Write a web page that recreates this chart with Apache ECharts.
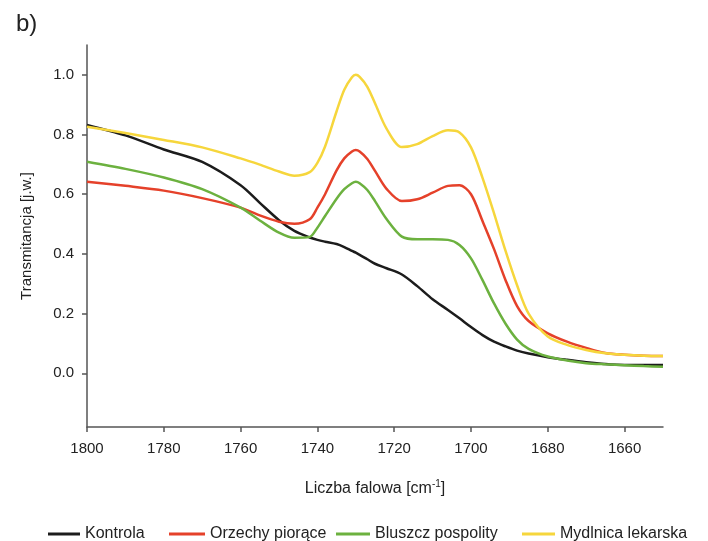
<!DOCTYPE html>
<html>
<head>
<meta charset="utf-8">
<script src="https://cdn.jsdelivr.net/npm/echarts@6/dist/echarts.min.js"></script>
<style>
html, body { margin: 0; padding: 0; background: #fff; }
#chart { width: 708px; height: 541px; }
</style>
</head>
<body>
<div id="chart"></div>
<script>
// wavenumber grid [cm-1]
var wavenumbers = [1800, 1790, 1780, 1770, 1760, 1755, 1750, 1746, 1742, 1740, 1738, 1735, 1733, 1731, 1730, 1729, 1727, 1725, 1722,
    1718, 1714, 1710, 1706, 1703, 1700, 1697, 1694, 1691, 1688, 1685, 1680, 1675, 1670, 1665, 1660, 1655, 1650];

var kontrola = [0.832, 0.797, 0.750, 0.708, 0.630, 0.571, 0.513, 0.477, 0.455, 0.447, 0.441, 0.433, 0.423, 0.410, 0.404, 0.397, 0.382, 0.367, 0.352,
    0.331, 0.292, 0.248, 0.212, 0.184, 0.155, 0.128, 0.106, 0.090, 0.076, 0.066, 0.054, 0.045, 0.037, 0.031, 0.028, 0.028, 0.028];
var orzechy = [0.642, 0.628, 0.612, 0.587, 0.555, 0.529, 0.508, 0.501, 0.516, 0.555, 0.600, 0.680, 0.720, 0.743, 0.748, 0.743, 0.718, 0.678, 0.618,
    0.577, 0.583, 0.605, 0.628, 0.630, 0.600, 0.510, 0.416, 0.312, 0.225, 0.175, 0.134, 0.106, 0.085, 0.068, 0.062, 0.059, 0.058];
var bluszcz = [0.709, 0.685, 0.656, 0.617, 0.555, 0.512, 0.471, 0.454, 0.457, 0.488, 0.527, 0.585, 0.617, 0.637, 0.642, 0.637, 0.614, 0.577, 0.517,
    0.458, 0.449, 0.449, 0.447, 0.430, 0.385, 0.312, 0.234, 0.166, 0.113, 0.082, 0.056, 0.043, 0.034, 0.030, 0.027, 0.024, 0.022];
var mydlnica = [0.826, 0.805, 0.782, 0.757, 0.720, 0.699, 0.676, 0.662, 0.674, 0.705, 0.760, 0.878, 0.950, 0.992, 1.000, 0.993, 0.960, 0.905, 0.820,
    0.758, 0.768, 0.795, 0.814, 0.807, 0.757, 0.655, 0.536, 0.410, 0.295, 0.200, 0.123, 0.095, 0.078, 0.067, 0.062, 0.059, 0.058];

var seriesNames = ['Kontrola', 'Orzechy piorące', 'Bluszcz pospolity', 'Mydlnica lekarska'];
var seriesValues = [kontrola, orzechy, bluszcz, mydlnica];
var seriesColors = ['#1c1c1c', '#e5412a', '#6cb13f', '#f6d63c'];

var xTicks = [1800, 1780, 1760, 1740, 1720, 1700, 1680, 1660];
var yTicks = [0, 0.2, 0.4, 0.6, 0.8, 1.0];

var fontName = 'Liberation Sans, Arial, sans-serif';

function pairs(vals) {
    var out = [];
    for (var i = 0; i < wavenumbers.length; i++) {
        out.push([wavenumbers[i], vals[i]]);
    }
    return out;
}

var series = [];
for (var i = 0; i < seriesNames.length; i++) {
    series.push({
        name: seriesNames[i],
        type: 'line',
        data: pairs(seriesValues[i]),
        smooth: 0.3,
        showSymbol: false,
        color: seriesColors[i],
        lineStyle: {width: 2.5, color: seriesColors[i]}
    });
}

// one legend per item so the uneven spacing can be matched
var legendLefts = [43, 164, 331, 517];
var legendWidths = [32, 36, 34, 33];
var legends = [];
for (var k = 0; k < seriesNames.length; k++) {
    legends.push({
        data: [seriesNames[k]],
        left: legendLefts[k],
        top: 521,
        icon: 'rect',
        itemWidth: legendWidths[k],
        itemHeight: 3,
        itemGap: 0,
        selectedMode: false,
        textStyle: {fontFamily: fontName, fontSize: 16, color: '#222'}
    });
}

var myChart = echarts.init(document.getElementById('chart'));
var option = {
    backgroundColor: '#fff',
    animation: false,
    title: {
        text: 'b)', left: 11, top: 7,
        textStyle: {fontFamily: fontName, fontSize: 24, fontWeight: 'normal', color: '#222'}
    },
    legend: legends,
    grid: {left: 87, right: 45, top: 45, bottom: 114, containLabel: false},
    xAxis: {
        type: 'value',
        inverse: true,
        min: 1650,
        max: 1800,
        name: 'Liczba falowa [cm{sup|-1}]',
        nameLocation: 'middle',
        nameGap: 52,
        nameTextStyle: {
            fontFamily: fontName, fontSize: 16, color: '#222',
            rich: {sup: {fontFamily: fontName, fontSize: 10, color: '#222', padding: [0, 0, 9, 0]}}
        },
        axisLine: {show: true, onZero: false, lineStyle: {color: '#555', width: 1.5}},
        axisTick: {show: true, length: 5, lineStyle: {color: '#555', width: 1.5}, customValues: xTicks},
        axisLabel: {
            customValues: xTicks, margin: 14,
            fontFamily: fontName, fontSize: 15, color: '#222',
            formatter: function (v) { return String(v); }
        },
        splitLine: {show: false}
    },
    yAxis: {
        type: 'value',
        min: -0.18,
        max: 1.1,
        name: 'Transmitancja [j.w.]',
        nameLocation: 'middle',
        nameGap: 53,
        nameTextStyle: {fontFamily: fontName, fontSize: 15, color: '#222'},
        axisLine: {show: true, onZero: false, lineStyle: {color: '#555', width: 1.5}},
        axisTick: {show: true, length: 5, lineStyle: {color: '#555', width: 1.5}, customValues: yTicks},
        axisLabel: {
            customValues: yTicks, margin: 13,
            fontFamily: fontName, fontSize: 15, color: '#222',
            formatter: function (v) { return v.toFixed(1); }
        },
        splitLine: {show: false}
    },
    series: series
};

myChart.setOption(option);
</script>
</body>
</html>
